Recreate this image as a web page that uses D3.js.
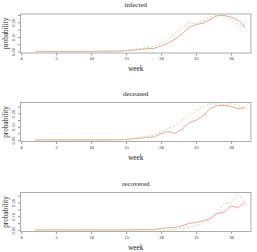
<!DOCTYPE html>
<html>
<head>
<meta charset="utf-8">
<script src="https://cdn.jsdelivr.net/npm/d3@7"></script>
<style>
  body { margin: 0; background: #fff; }
  svg { display: block; }
  text { font-family: "Liberation Serif", "DejaVu Serif", serif; fill: #222; }
</style>
</head>
<body>
<svg width="257" height="252"></svg>
<script>
const svg = d3.select("svg");

// data
const weeks = [2, 3, 4, 5, 6, 7, 8, 9, 10, 11, 12, 13, 14, 15, 16, 17, 18, 19, 20, 21, 22, 23, 24, 25, 26, 27, 28, 29, 30, 31, 32];

const infectedObs = [0.001, 0.001, 0.001, 0.001, 0.001, 0.001, 0.001, 0.001, 0.001, 0.002, 0.002, 0.003, 0.004, 0.006, 0.010, 0.015, 0.019, 0.022, 0.038, 0.058, 0.085, 0.120, 0.166, 0.185, 0.193, 0.218, 0.245, 0.247, 0.236, 0.213, 0.170];
const infectedFit = [0.001, 0.001, 0.001, 0.001, 0.001, 0.001, 0.001, 0.001, 0.001, 0.002, 0.002, 0.003, 0.005, 0.008, 0.013, 0.020, 0.027, 0.035, 0.055, 0.085, 0.125, 0.165, 0.195, 0.192, 0.210, 0.238, 0.247, 0.244, 0.215, 0.182, 0.165];

const deceasedObs = [0.001, 0.001, 0.001, 0.001, 0.001, 0.001, 0.001, 0.001, 0.001, 0.001, 0.001, 0.002, 0.002, 0.004, 0.010, 0.014, 0.020, 0.024, 0.048, 0.065, 0.050, 0.082, 0.130, 0.148, 0.180, 0.235, 0.258, 0.258, 0.252, 0.235, 0.242];
const deceasedFit = [0.001, 0.001, 0.001, 0.001, 0.001, 0.001, 0.001, 0.001, 0.001, 0.001, 0.001, 0.002, 0.003, 0.005, 0.012, 0.020, 0.028, 0.038, 0.060, 0.085, 0.108, 0.145, 0.180, 0.218, 0.250, 0.268, 0.270, 0.265, 0.270, 0.262, 0.242];

const recoveredObs = [0.001, 0.001, 0.001, 0.001, 0.001, 0.001, 0.001, 0.001, 0.001, 0.001, 0.001, 0.001, 0.001, 0.002, 0.002, 0.003, 0.003, 0.005, 0.012, 0.017, 0.018, 0.031, 0.048, 0.055, 0.067, 0.083, 0.119, 0.131, 0.174, 0.164, 0.200];
const recoveredFit = [0.0005, 0.0005, 0.0005, 0.0005, 0.0005, 0.0005, 0.0005, 0.0005, 0.0005, 0.0005, 0.0005, 0.0005, 0.0005, 0.0005, 0.0005, 0.0005, 0.001, 0.001, 0.002, 0.003, 0.007, 0.012, 0.019, 0.031, 0.048, 0.079, 0.131, 0.195, 0.195, 0.262, 0.207];

const panelTitles = ["infected", "deceased", "recovered"];
const xTicks = [0, 5, 10, 15, 20, 25, 30];
const yTicks = [0, 0.05, 0.10, 0.15, 0.20, 0.25];

const panels = [
  { title: panelTitles[0], obs: infectedObs, fit: infectedFit },
  { title: panelTitles[1], obs: deceasedObs, fit: deceasedFit },
  { title: panelTitles[2], obs: recoveredObs, fit: recoveredFit }
];

const boxLeft = 20.5;
const boxRight = 251;
const boxH = 39;
const panelTops = [14, 102.5, 192.5];

const colorObs = '#ec9894';
const colorFit = '#a2e4a2';

const xScale = d3.scaleLinear()
  .domain([-0.1, 32.85])
  .range([boxLeft, boxRight]);

panels.forEach((p, i) => {
  const top = panelTops[i];
  const bottom = top + boxH;
  const maxVal = d3.max(p.obs.concat(p.fit));

  // R style 4% padding
  const yScale = d3.scaleLinear()
    .domain([-0.04 * maxVal, 1.04 * maxVal])
    .range([bottom, top]);

  const g = svg.append('g');

  // title
  g.append('text')
    .text(p.title)
    .attr('x', (boxLeft + boxRight) / 2)
    .attr('y', top - 7)
    .attr('text-anchor', 'middle')
    .attr('font-size', 7);

  // x axis
  const xAxisG = g.append('g')
    .attr('transform', `translate(0,${bottom})`)
    .call(d3.axisBottom(xScale).tickValues(xTicks).tickSize(2.5).tickPadding(1.5));

  xAxisG.select('.domain').remove();
  xAxisG.selectAll('.tick line').attr('stroke', '#555').attr('stroke-width', 0.6);
  xAxisG.selectAll('.tick text')
    .attr('font-size', 4.5)
    .attr('fill', '#333')
    .style('font-family', '"Liberation Serif", serif');

  // y axis
  const yAxisG = g.append('g')
    .attr('transform', `translate(${boxLeft},0)`)
    .call(d3.axisLeft(yScale)
      .tickValues(yTicks.filter(t => t <= yScale.domain()[1]))
      .tickSize(2.5)
      .tickFormat(d => Math.round(d * 100) % 10 === 0 ? d3.format('.2f')(d) : ''));

  yAxisG.select('.domain').remove();
  yAxisG.selectAll('.tick line').attr('stroke', '#555').attr('stroke-width', 0.6);
  yAxisG.selectAll('.tick text')
    .attr('transform', 'rotate(-90)')
    .attr('x', 0)
    .attr('y', -5.5)
    .attr('dy', 0)
    .attr('text-anchor', 'middle')
    .attr('font-size', 4.5)
    .attr('fill', '#333')
    .style('font-family', '"Liberation Serif", serif');

  // axis titles
  g.append('text')
    .text('week')
    .attr('x', (boxLeft + boxRight) / 2)
    .attr('y', bottom + 18)
    .attr('text-anchor', 'middle')
    .attr('font-size', 7.2);

  g.append('text')
    .text('probability')
    .attr('transform', `translate(7.5,${top + boxH / 2}) rotate(-90)`)
    .attr('text-anchor', 'middle')
    .attr('font-size', 7.2);

  // lines
  const line = series => d3.line()
    .x((d, j) => xScale(weeks[j]))
    .y(d => yScale(d))(series);

  g.append('path')
    .attr('d', line(p.obs))
    .attr('fill', 'none')
    .attr('stroke', colorObs)
    .attr('stroke-width', 0.9);

  g.append('path')
    .attr('d', line(p.fit))
    .attr('fill', 'none')
    .attr('stroke', colorFit)
    .attr('stroke-width', 0.9)
    .attr('stroke-dasharray', '2,2');

  // box
  g.append('rect')
    .attr('x', boxLeft)
    .attr('y', top)
    .attr('width', boxRight - boxLeft)
    .attr('height', boxH)
    .attr('fill', 'none')
    .attr('stroke', '#999')
    .attr('stroke-width', 0.8);
});
</script>
</body>
</html>
